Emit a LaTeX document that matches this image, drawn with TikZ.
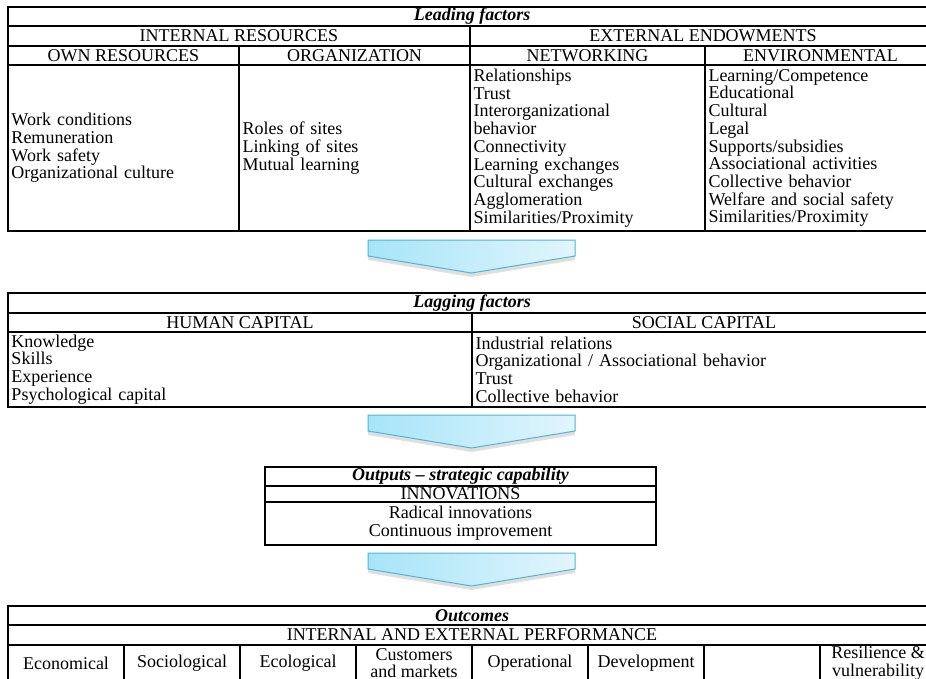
\documentclass[tikz,border=0pt]{standalone}
\usepackage{fontspec}
\setmainfont{Liberation Serif}
\usetikzlibrary{positioning, calc, shadows}

\definecolor{chevronleft}{HTML}{A6E5F9}
\definecolor{chevronright}{HTML}{E2F5FC}
\definecolor{chevronline}{HTML}{52B4D4}

\begin{document}
\begin{tikzpicture}[x=1pt, y=-1pt]
        \tikzstyle{cell}=[draw, line width=1.8pt, anchor=north west, inner xsep=3.5pt, inner ysep=0pt, outer sep=0pt, font=\fontsize{18}{17.7}\selectfont];
        \tikzstyle{list}=[cell, align=left];
        \tikzstyle{chevron}=[draw=chevronline, line width=1pt, left color=chevronleft, right color=chevronright, drop shadow={shadow xshift=0pt, shadow yshift=-4pt, opacity=.25}];

        \useasboundingbox (0,0) rectangle (926,678);

        % leading factors
        \node[cell, minimum width=928, minimum height=19] (lead) at (8,7) {\textbf{\textit{Leading factors}}};
        \node[cell, minimum width=462, minimum height=20] (internal) at (lead.south west) {INTERNAL RESOURCES};
        \node[cell, minimum width=466, minimum height=20] (external) at (internal.north east) {EXTERNAL ENDOWMENTS};
        \node[cell, minimum width=231, minimum height=19] (own) at (internal.south west) {OWN RESOURCES};
        \node[cell, minimum width=231, minimum height=19] (orga) at (own.north east) {ORGANIZATION};
        \node[cell, minimum width=235, minimum height=19] (netw) at (orga.north east) {NETWORKING};
        \node[cell, minimum width=231, minimum height=19] (envir) at (netw.north east) {ENVIRONMENTAL};
        \node[list, text width=224, minimum height=166] (ownlist) at (own.south west)
          {Work conditions\\Remuneration\\Work safety\\Organizational culture};
        \node[list, text width=224, minimum height=166] (orgalist) at (orga.south west)
          {Roles of sites\\Linking of sites\\Mutual learning};
        \node[list, text width=228, minimum height=166] (netwlist) at (netw.south west)
          {Relationships\\Trust\\Interorganizational\\behavior\\Connectivity\\Learning exchanges\\Cultural exchanges\\Agglomeration\\Similarities/Proximity};
        \node[list, text width=224, minimum height=166] (envirlist) at (envir.south west)
          {Learning/Competence\\Educational\\Cultural\\Legal\\Supports/subsidies\\Associational activities\\Collective behavior\\Welfare and social safety\\Similarities/Proximity};

        % lagging factors
        \node[cell, minimum width=928, minimum height=20] (lag) at (8,293) {\textbf{\textit{Lagging factors}}};
        \node[cell, minimum width=464, minimum height=19] (human) at (lag.south west) {HUMAN CAPITAL};
        \node[cell, minimum width=464, minimum height=19] (social) at (human.north east) {SOCIAL CAPITAL};
        \node[list, text width=457, minimum height=75] (humanlist) at (human.south west)
          {Knowledge\\Skills\\Experience\\Psychological capital};
        \node[list, text width=457, minimum height=75] (sociallist) at (social.south west)
          {Industrial relations\\Organizational / Associational behavior\\Trust\\Collective behavior};

        % outputs
        \node[cell, minimum width=391, minimum height=19] (outp) at (265,467) {\textbf{\textit{Outputs -- strategic capability}}};
        \node[cell, minimum width=391, minimum height=16] (innov) at (outp.south west) {INNOVATIONS};
        \node[cell, align=center, minimum width=391, minimum height=43] (innovlist) at (innov.south west)
          {Radical innovations\\Continuous improvement};

        % outcomes
        \node[cell, minimum width=928, minimum height=19] (outc) at (8,606) {\textbf{\textit{Outcomes}}};
        \node[cell, minimum width=928, minimum height=20] (perf) at (outc.south west) {INTERNAL AND EXTERNAL PERFORMANCE};
        \foreach \txt [count=\i from 0] in {Economical, Sociological, Ecological, Customers\\and markets, Operational, Development, {}, Resilience \&\\vulnerability}
          \node[cell, align=center, minimum width=116, minimum height=36] (res\i) at (8+116*\i,645) {\txt};

        % chevrons between the blocks
        \coordinate (c1) at (471.5,240);
        \coordinate (c2) at (471.5,415);
        \coordinate (c3) at (471.5,553);
        \foreach \c in {c1, c2, c3}
          \path[chevron] (\c) ++(-103.5,0) -- ++(207,0) -- ++(0,16) -- ++(-103.5,17) -- ++(-103.5,-17) -- cycle;
      \end{tikzpicture}
\end{document}
